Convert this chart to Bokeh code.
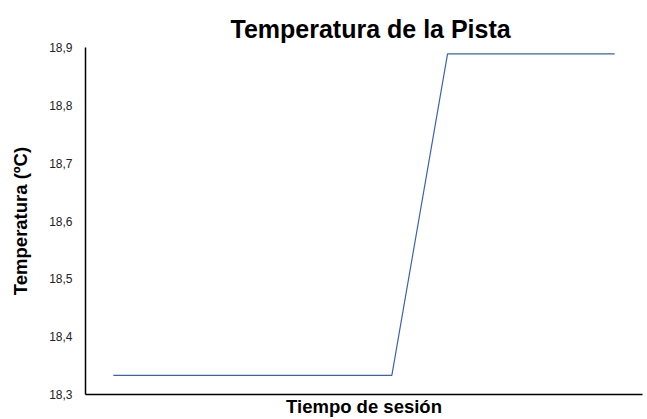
from bokeh.plotting import figure
from bokeh.embed import file_html
from bokeh.resources import INLINE
from bokeh.models import FixedTicker, Range1d

# Data
session_index = [0, 1, 2, 3, 4, 5, 6, 7, 8, 9]
track_temp_c = [18.333, 18.333, 18.333, 18.333, 18.333, 18.333, 18.889, 18.889, 18.889, 18.889]
y_ticks = [18.3, 18.4, 18.5, 18.6, 18.7, 18.8, 18.9]
y_tick_labels = ["18,3", "18,4", "18,5", "18,6", "18,7", "18,8", "18,9"]
title_text = "Temperatura de la Pista"

p = figure(width=647, height=419, output_backend="svg", toolbar_location=None,
           x_range=Range1d(-0.5, 9.5), y_range=Range1d(18.3, 18.9),
           title=title_text,
           min_border_left=85, min_border_right=5, min_border_top=47, min_border_bottom=25)

p.line(session_index, track_temp_c, line_color="#3b64a6", line_width=1.2)

p.title.align = "left"
p.title.offset = 145
p.title.text_font = "Liberation Sans"
p.title.text_font_size = "25px"
p.title.text_font_style = "bold"
p.title.text_color = "#000000"

p.grid.visible = False
p.outline_line_color = None

p.yaxis.ticker = FixedTicker(ticks=y_ticks)
p.yaxis.major_label_overrides = {t: l for t, l in zip(y_ticks, y_tick_labels)}
p.yaxis.major_tick_line_color = None
p.yaxis.minor_tick_line_color = None
p.yaxis.major_label_text_font = "Liberation Sans"
p.yaxis.major_label_text_font_size = "12px"
p.yaxis.major_label_text_color = "#222222"
p.yaxis.major_label_standoff = 7
p.yaxis.axis_line_color = "#000000"
p.yaxis.axis_line_width = 1.5
p.yaxis.axis_label = "Temperatura (ºC)"
p.yaxis.axis_label_text_font = "Liberation Sans"
p.yaxis.axis_label_text_font_size = "18.5px"
p.yaxis.axis_label_text_font_style = "bold"
p.yaxis.axis_label_text_color = "#000000"
p.yaxis.axis_label_standoff = 15

p.xaxis.ticker = FixedTicker(ticks=[])
p.xaxis.major_tick_line_color = None
p.xaxis.minor_tick_line_color = None
p.xaxis.major_label_text_font_size = "0px"
p.xaxis.axis_line_color = "#000000"
p.xaxis.axis_line_width = 1.5
p.xaxis.axis_label = "Tiempo de sesión"
p.xaxis.axis_label_text_font = "Liberation Sans"
p.xaxis.axis_label_text_font_size = "18.5px"
p.xaxis.axis_label_text_font_style = "bold"
p.xaxis.axis_label_text_color = "#000000"
p.xaxis.axis_label_standoff = 1

open("out.html", "w").write(file_html(p, INLINE))
